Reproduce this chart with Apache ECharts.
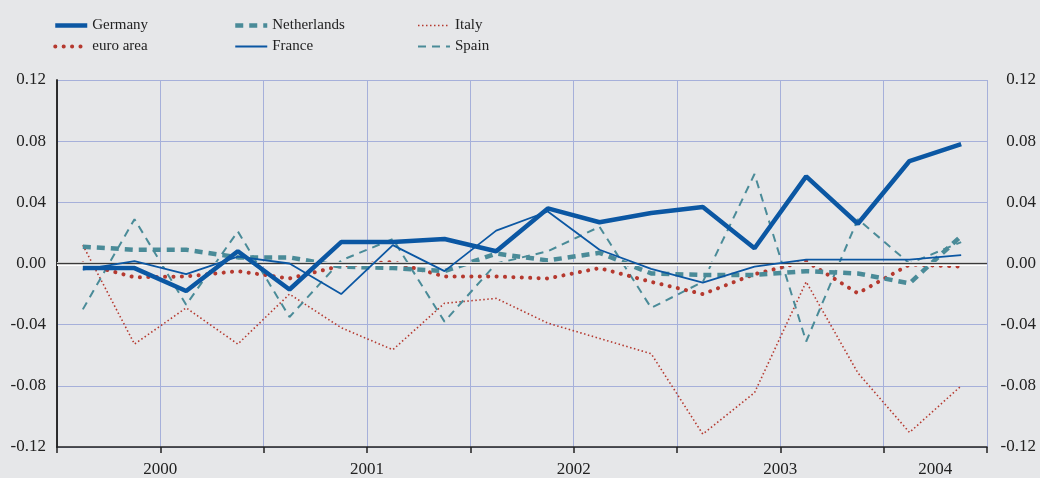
<!DOCTYPE html>
<html>
<head>
<meta charset="utf-8">
<script src="https://cdn.jsdelivr.net/npm/echarts@6/dist/echarts.min.js"></script>
<style>
html,body{margin:0;padding:0;background:#e6e7e9;}
#chart{width:1040px;height:478px;}
</style>
</head>
<body>
<div id="chart"></div>
<script>
// Quarterly observations, 2000Q1 - 2004Q2
var quarters = ['2000Q1','2000Q2','2000Q3','2000Q4','2001Q1','2001Q2','2001Q3','2001Q4',
                '2002Q1','2002Q2','2002Q3','2002Q4','2003Q1','2003Q2','2003Q3','2003Q4',
                '2004Q1','2004Q2'];
var yearLabels = ['2000','2001','2002','2003','2004'];
var yTicks = [-0.12, -0.08, -0.04, 0, 0.04, 0.08, 0.12];

var germany     = [-0.003,-0.003,-0.018,0.008,-0.017,0.014,0.014,0.016,0.008,0.036,0.027,0.033,0.037,0.010,0.057,0.026,0.067,0.078];
var euroArea    = [0.000,-0.009,-0.0085,-0.005,-0.0098,-0.0015,0.001,-0.0085,-0.0085,-0.0098,-0.003,-0.012,-0.020,-0.007,0.0015,-0.0195,-0.0007,-0.002];
var netherlands = [0.011,0.009,0.009,0.004,0.004,-0.002,-0.003,-0.005,0.0065,0.002,0.007,-0.0065,-0.0075,-0.0075,-0.005,-0.0065,-0.013,0.018];
var france      = [-0.004,0.0015,-0.007,0.0045,0.000,-0.020,0.012,-0.005,0.0215,0.034,0.009,-0.0035,-0.0125,-0.002,0.0025,0.0025,0.0025,0.0055];
var italy       = [0.012,-0.0527,-0.029,-0.0527,-0.020,-0.042,-0.0564,-0.026,-0.0228,-0.039,-0.049,-0.059,-0.1116,-0.0845,-0.012,-0.0715,-0.1105,-0.080];
var spain       = [-0.030,0.029,-0.027,0.021,-0.035,0.002,0.016,-0.038,0.000,0.008,0.024,-0.029,-0.012,0.0585,-0.051,0.029,0.000,0.014];

var BLUE = '#0b57a3', TEAL = '#4a8b98', RED = '#b5392f', GRID = '#a6b0da';
var FONT = '"Liberation Serif", "DejaVu Serif", serif';

var styles = {
  'Germany':     {color:BLUE, width:4.5, type:'solid'},
  'euro area':   {color:RED,  width:4,   type:[0.1,8.3], cap:'round'},
  'Netherlands': {color:TEAL, width:4.5, type:[8,6]},
  'France':      {color:BLUE, width:1.8, type:'solid'},
  'Italy':       {color:RED,  width:1.6, type:[1.5,2.5]},
  'Spain':       {color:TEAL, width:2,   type:[8,6]}
};

function toXY(arr){ return arr.map(function(v,i){ return [i + 0.5, v]; }); }

// year label position: center of the quarters belonging to that year
var yearPos = {};
yearLabels.forEach(function(y){
  var idx = quarters.map(function(q,i){ return q.indexOf(y)===0 ? i : -1; }).filter(function(i){return i>=0;});
  yearPos[(idx[0] + idx[idx.length-1] + 1)/2] = y;
});

var chart = echarts.init(document.getElementById('chart'));
var legendText = {fontFamily: FONT, fontSize: 15, color: '#222'};
function legend(left, names){
  return {orient:'vertical', left:left, top:13, itemWidth:32, itemHeight:14, itemGap:6,
          itemStyle:{opacity:0},
          textStyle: legendText, selectedMode:false,
          data: names.map(function(n){ return {name:n, lineStyle: styles[n]}; })};
}
var gridColors = yTicks.map(function(t){ return t === 0 ? '#ffffff' : GRID; });

function series(name, arr, z){
  return {name:name, type:'line', data:toXY(arr), symbol:'none', z:z,
          lineStyle: styles[name], itemStyle:{color: styles[name].color}};
}

chart.setOption({
  animation:false,
  backgroundColor:'#e6e7e9',
  legend:[ legend(48, ['Germany','euro area']), legend(228, ['Netherlands','France']), legend(412, ['Italy','Spain']) ],
  grid:{left:57, right:53, top:80, bottom:29},
  xAxis:[{
    type:'value', min:0, max:quarters.length, interval:2,
    axisLine:{show:true, onZero:false, lineStyle:{color:'#222', width:1.5}},
    axisTick:{show:true, length:6, lineStyle:{color:'#222', width:1.5}},
    axisLabel:{show:false},
    splitLine:{show:true, lineStyle:{color:GRID, width:1}}
  },{
    type:'value', min:0, max:quarters.length, interval:0.5, position:'bottom',
    axisLine:{show:false}, axisTick:{show:false}, splitLine:{show:false},
    axisLabel:{show:true, margin:14, fontFamily:FONT, fontSize:17, color:'#222',
      showMinLabel:false, showMaxLabel:false,
      formatter:function(v){ return yearPos[v] || ''; }}
  }],
  yAxis:[{
    type:'value', min:-0.12, max:0.12, interval:0.04, position:'left',
    axisLine:{show:true, lineStyle:{color:'#222', width:1.5}},
    axisTick:{show:false},
    axisLabel:{margin:11, fontFamily:FONT, fontSize:17, color:'#222', formatter:function(v){return v.toFixed(2);}},
    splitLine:{show:true, lineStyle:{color:gridColors, width:1}}
  },{
    type:'value', min:-0.12, max:0.12, interval:0.04, position:'right',
    axisLine:{show:true, lineStyle:{color:'#222', width:1.5}},
    axisTick:{show:false},
    axisLabel:{margin:49, align:'right', fontFamily:FONT, fontSize:17, color:'#222', formatter:function(v){return v.toFixed(2);}},
    splitLine:{show:false}
  }],
  series:[
    {name:'zero', type:'line', data:[], z:1, silent:true,
     markLine:{silent:true, symbol:'none', label:{show:false}, animation:false,
       data:[{yAxis:0, lineStyle:{color:'#ffffff', width:4, type:'solid'}},
             {yAxis:0, lineStyle:{color:'#3a3a3a', width:1.3, type:'solid'}}]}},
    series('Italy', italy, 3),
    series('Spain', spain, 3),
    series('euro area', euroArea, 4),
    series('Netherlands', netherlands, 4),
    series('France', france, 5),
    series('Germany', germany, 6)
  ]
});
</script>
</body>
</html>
